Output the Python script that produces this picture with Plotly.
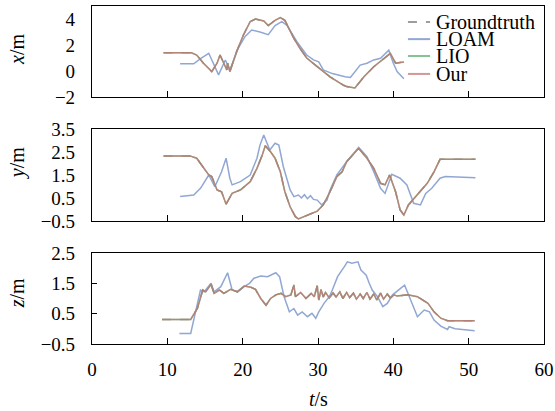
import plotly.graph_objects as go

# ---------------- data ----------------
t_our_x = [9.5, 13.2, 13.9, 14.8, 15.9, 16.6, 17.0, 17.7, 17.9, 18.0, 18.3, 19.2, 20.1, 21.0, 21.7, 22.8, 23.4,
           24.3, 25.0, 25.6, 26.8, 27.6, 28.5, 29.9, 31.6, 33.4, 33.8, 34.9, 36.1, 37.4, 38.9, 39.6, 40.3, 41.4]
our_x = [1.4, 1.4, 1.23, 0.6, -0.05, 0.6, 1.23, 0.33, 0.08, 0.6, -0.05, 1.5, 2.77, 3.8, 4.0, 3.85, 3.5,
         3.9, 4.1, 3.9, 2.5, 1.75, 1.0, 0.33, -0.45, -1.1, -1.2, -1.3, -0.45, 0.33, 1.0, 1.35, 0.6, 0.7]
t_loam_x = [11.7, 13.5, 14.4, 15.5, 16.8, 17.7, 18.3, 19.4, 20.3, 21.2, 22.3, 23.4, 24.3, 25.2, 25.9, 27.2, 28.5,
            29.4, 30.1, 30.7, 31.9, 32.5, 33.6, 34.3, 35.6, 36.5, 37.4, 38.3, 39.4, 40.0, 40.5, 41.4]
loam_x = [0.55, 0.55, 0.95, 1.36, -0.3, 0.85, 0.08, 1.75, 2.64, 3.15, 3.0, 2.8, 3.5, 3.8, 3.5, 2.25, 1.23,
          0.85, 0.7, 0.08, -0.2, -0.3, -0.45, -0.5, 0.45, 0.6, 0.85, 0.98, 1.6, 0.6, -0.05, -0.6]

t_our_y = [9.5, 13.0, 13.9, 14.8, 15.5, 15.9, 16.6, 17.2, 17.8, 18.6, 19.7, 21.0, 21.9, 22.6, 23.0, 23.7, 24.3,
           25.0, 25.6, 26.3, 27.0, 27.4, 28.5, 29.9, 30.7, 31.6, 32.5, 33.2, 33.8, 35.4, 36.5, 37.4, 38.3,
           38.9, 39.5, 40.3, 40.9, 41.4, 42.0, 43.1, 44.5, 45.4, 46.2, 48.5, 50.9]
our_y = [2.33, 2.33, 2.23, 1.79, 1.5, 1.43, 0.85, 0.77, 0.23, 0.7, 0.85, 1.21, 1.79, 2.37, 2.77, 2.51, 2.23,
         1.64, 0.77, 0.12, -0.31, -0.41, -0.27, -0.07, 0.2, 0.77, 1.43, 1.64, 2.08, 2.66, 2.23, 1.79, 1.14,
         1.07, 1.5, 0.77, -0.02, -0.24, 0.2, 0.63, 1.14, 1.64, 2.18, 2.18, 2.18]
t_loam_y = [11.7, 13.5, 14.4, 15.5, 16.3, 17.2, 17.8, 18.3, 18.6, 19.7, 21.0, 21.9, 22.3, 22.8, 23.6, 24.3, 24.8,
            25.4, 26.3, 26.8, 27.4, 27.8, 28.2, 28.6, 29.0, 29.4, 29.9, 30.5, 31.2, 31.6, 32.5, 33.8, 35.4,
            36.5, 37.4, 38.3, 38.9, 39.8, 40.9, 41.8, 42.7, 43.6, 44.3, 45.1, 46.2, 46.9, 49.3, 50.9]
loam_y = [0.56, 0.63, 0.92, 1.5, 0.99, 1.64, 2.23, 1.36, 1.07, 1.21, 1.5, 2.23, 2.8, 3.24, 2.59, 2.88, 2.8,
          1.86, 0.85, 0.56, 0.63, 0.5, 0.64, 0.47, 0.6, 0.44, 0.41, 0.2, 0.41, 0.85, 1.5, 2.08, 2.7,
          2.3, 1.64, 0.92, 0.7, 1.53, 1.36, 1.07, 0.27, 0.2, 0.7, 0.92, 1.36, 1.43, 1.4, 1.38]

t_our_z = [9.3, 13.1, 14.0, 14.7, 15.1, 15.8, 16.2, 16.9, 17.5, 18.4, 19.3, 20.2, 21.1, 21.7, 22.4, 23.1, 23.7,
           24.4, 25.1, 25.7, 26.4, 26.8, 27.0, 27.7, 28.4, 29.1, 29.5, 29.9, 30.1, 30.4, 30.7, 31.0, 31.5,
           32.0, 32.4, 32.9, 33.3, 33.8, 34.2, 34.7, 35.1, 35.6, 36.0, 36.5, 36.9, 37.4, 37.8, 38.3, 38.7,
           39.2, 39.6, 40.1, 40.5, 41.9, 43.2, 44.6, 45.4, 46.3, 47.2, 50.8]
our_z = [0.31, 0.31, 0.68, 1.28, 1.22, 1.47, 1.17, 1.28, 1.17, 1.3, 1.22, 1.41, 1.37, 1.3, 1.0, 0.78, 1.0,
         1.12, 1.17, 1.06, 1.12, 1.45, 1.06, 1.2, 1.0, 1.17, 1.06, 1.42, 0.95, 1.3, 1.05, 1.2, 1.02,
         1.18, 1.05, 1.22, 1.0, 1.2, 1.03, 1.18, 0.98, 1.15, 1.0, 1.2, 0.98, 1.15, 0.95, 1.18, 0.98,
         1.15, 1.02, 1.12, 1.08, 1.12, 1.06, 0.84, 0.56, 0.35, 0.27, 0.27]
t_loam_z = [11.6, 13.1, 14.4, 14.9, 15.8, 16.2, 17.1, 17.5, 18.0, 18.6, 19.3, 20.2, 20.9, 21.5, 22.4, 23.3, 23.9,
            24.4, 24.9, 25.5, 26.2, 26.8, 27.3, 27.9, 28.6, 29.2, 29.7, 30.1, 30.8, 31.5, 31.9, 32.6, 33.5,
            33.9, 34.5, 35.3, 35.7, 36.4, 36.8, 37.2, 37.9, 38.6, 39.2, 39.9, 41.0, 41.5, 42.3, 43.2, 44.1,
            44.8, 45.4, 46.3, 47.2, 47.4, 48.2, 50.8]
loam_z = [-0.15, -0.15, 1.28, 1.22, 1.5, 1.22, 1.39, 1.6, 1.85, 1.28, 1.22, 1.39, 1.5, 1.67, 1.74, 1.72, 1.8,
          1.85, 1.72, 1.06, 0.56, 0.67, 0.45, 0.56, 0.4, 0.51, 0.35, 0.56, 0.84, 1.06, 1.28, 1.72, 2.05,
          2.21, 2.16, 2.21, 1.94, 1.77, 1.5, 1.28, 1.06, 0.73, 0.84, 1.12, 1.34, 1.44, 0.95, 0.4, 0.62,
          0.56, 0.29, 0.09, -0.02, 0.07, 0.0, -0.06]

# Groundtruth and LIO coincide with "Our" at this resolution
gt_x, gt_y, gt_z = list(our_x), list(our_y), list(our_z)
lio_x, lio_y, lio_z = list(our_x), list(our_y), list(our_z)

series_names = ["Groundtruth", "LOAM", "LIO", "Our"]
x_ticks = [0, 10, 20, 30, 40, 50, 60]
ticks_x_panel = [-2, 0, 2, 4]
ticks_y_panel = [-0.5, 0.5, 1.5, 2.5, 3.5]
ticks_z_panel = [-0.5, 0.5, 1.5, 2.5]


def fmt(v):
    s = ("%g" % abs(v))
    return ("\u2212" + s) if v < 0 else s


# ---------------- style ----------------
FONT = "Liberation Serif"
C_GT = "rgba(140,140,140,0.85)"
C_LOAM = "rgba(125,152,205,0.85)"
C_LIO = "rgba(110,185,130,0.85)"
C_OUR = "rgba(200,110,110,0.72)"
LW = 1.5

fig = go.Figure()

panels = [
    ("y", t_our_x, gt_x, t_loam_x, loam_x, lio_x, our_x),
    ("y2", t_our_y, gt_y, t_loam_y, loam_y, lio_y, our_y),
    ("y3", t_our_z, gt_z, t_loam_z, loam_z, lio_z, our_z),
]
xaxes = {"y": "x", "y2": "x2", "y3": "x3"}
for ya, t_o, gt, t_l, lo, li, ou in panels:
    xa = xaxes[ya]
    fig.add_trace(go.Scatter(x=t_o, y=gt, mode="lines", line=dict(color=C_GT, width=LW, dash="dash"),
                             xaxis=xa, yaxis=ya, showlegend=False, name=series_names[0]))
    fig.add_trace(go.Scatter(x=t_l, y=lo, mode="lines", line=dict(color=C_LOAM, width=LW),
                             xaxis=xa, yaxis=ya, showlegend=False, name=series_names[1]))
    fig.add_trace(go.Scatter(x=t_o, y=li, mode="lines", line=dict(color=C_LIO, width=LW),
                             xaxis=xa, yaxis=ya, showlegend=False, name=series_names[2]))
    fig.add_trace(go.Scatter(x=t_o, y=ou, mode="lines", line=dict(color=C_OUR, width=LW),
                             xaxis=xa, yaxis=ya, showlegend=False, name=series_names[3]))

common_x = dict(range=[0, 60], tickvals=x_ticks, ticks="inside", ticklen=6, tickcolor="black",
                showline=True, mirror=True, linecolor="black", linewidth=1.2, showgrid=False,
                zeroline=False, automargin=False)
common_y = dict(showline=True, mirror=True, linecolor="black", linewidth=1.2, showgrid=False,
                zeroline=False, tickfont=dict(family=FONT, size=19, color="black"),
                ticklabelstandoff=12, automargin=False)

fig.update_layout(
    width=555, height=411,
    margin=dict(l=92, r=11, t=6, b=67),
    paper_bgcolor="white", plot_bgcolor="white",
    font=dict(family=FONT, size=19, color="black"),
    showlegend=False,
    xaxis=dict(common_x, domain=[0, 1], anchor="y", showticklabels=False),
    xaxis2=dict(common_x, domain=[0, 1], anchor="y2", showticklabels=False),
    xaxis3=dict(common_x, domain=[0, 1], anchor="y3", showticklabels=True,
                tickfont=dict(family=FONT, size=19, color="black"), ticklabelstandoff=8),
    yaxis=dict(common_y, domain=[0.7308, 1.0], range=[-2, 5], tickvals=ticks_x_panel,
               ticktext=[fmt(v) for v in ticks_x_panel], ticks=""),
    yaxis2=dict(common_y, domain=[0.3639, 0.6361], range=[-0.5, 3.5], tickvals=ticks_y_panel,
                ticktext=[fmt(v) for v in ticks_y_panel], ticks=""),
    yaxis3=dict(common_y, domain=[0.0, 0.2692], range=[-0.5, 2.5], tickvals=ticks_z_panel,
                ticktext=[fmt(v) for v in ticks_z_panel], ticks="inside", ticklen=5, tickcolor="black"),
)

# axis titles
titles = [("<i>x</i>/m", 0.873), ("<i>y</i>/m", 0.535), ("<i>z</i>/m", 0.15)]
for txt, yy in titles:
    fig.add_annotation(text=txt, xref="paper", yref="paper", x=-0.166, y=yy, showarrow=False,
                       xanchor="center", yanchor="middle",
                       textangle=-90, font=dict(family=FONT, size=20, color="black"))
fig.add_annotation(text="<i>t</i>/s", xref="paper", yref="paper", x=0.5, y=-0.163, showarrow=False,
                   xanchor="center", yanchor="middle",
                   font=dict(family=FONT, size=20, color="black"))

# custom legend (compact, as in the reference)
leg_rows = [0.953, 0.902, 0.852, 0.799]
leg_styles = [(C_GT, "dash"), (C_LOAM, "solid"), (C_LIO, "solid"), (C_OUR, "solid")]
for name, yy, (col, dash) in zip(series_names, leg_rows, leg_styles):
    fig.add_shape(type="line", xref="paper", yref="paper", x0=0.699, x1=0.748, y0=yy, y1=yy,
                  line=dict(color=col, width=2, dash=dash))
    fig.add_annotation(text=name, xref="paper", yref="paper", x=0.757, y=yy, xanchor="left",
                       yanchor="middle", showarrow=False, font=dict(family=FONT, size=20, color="black"))

fig.write_html("out.html", config={"displayModeBar": False},
               post_script="document.body.style.margin='0px';")
